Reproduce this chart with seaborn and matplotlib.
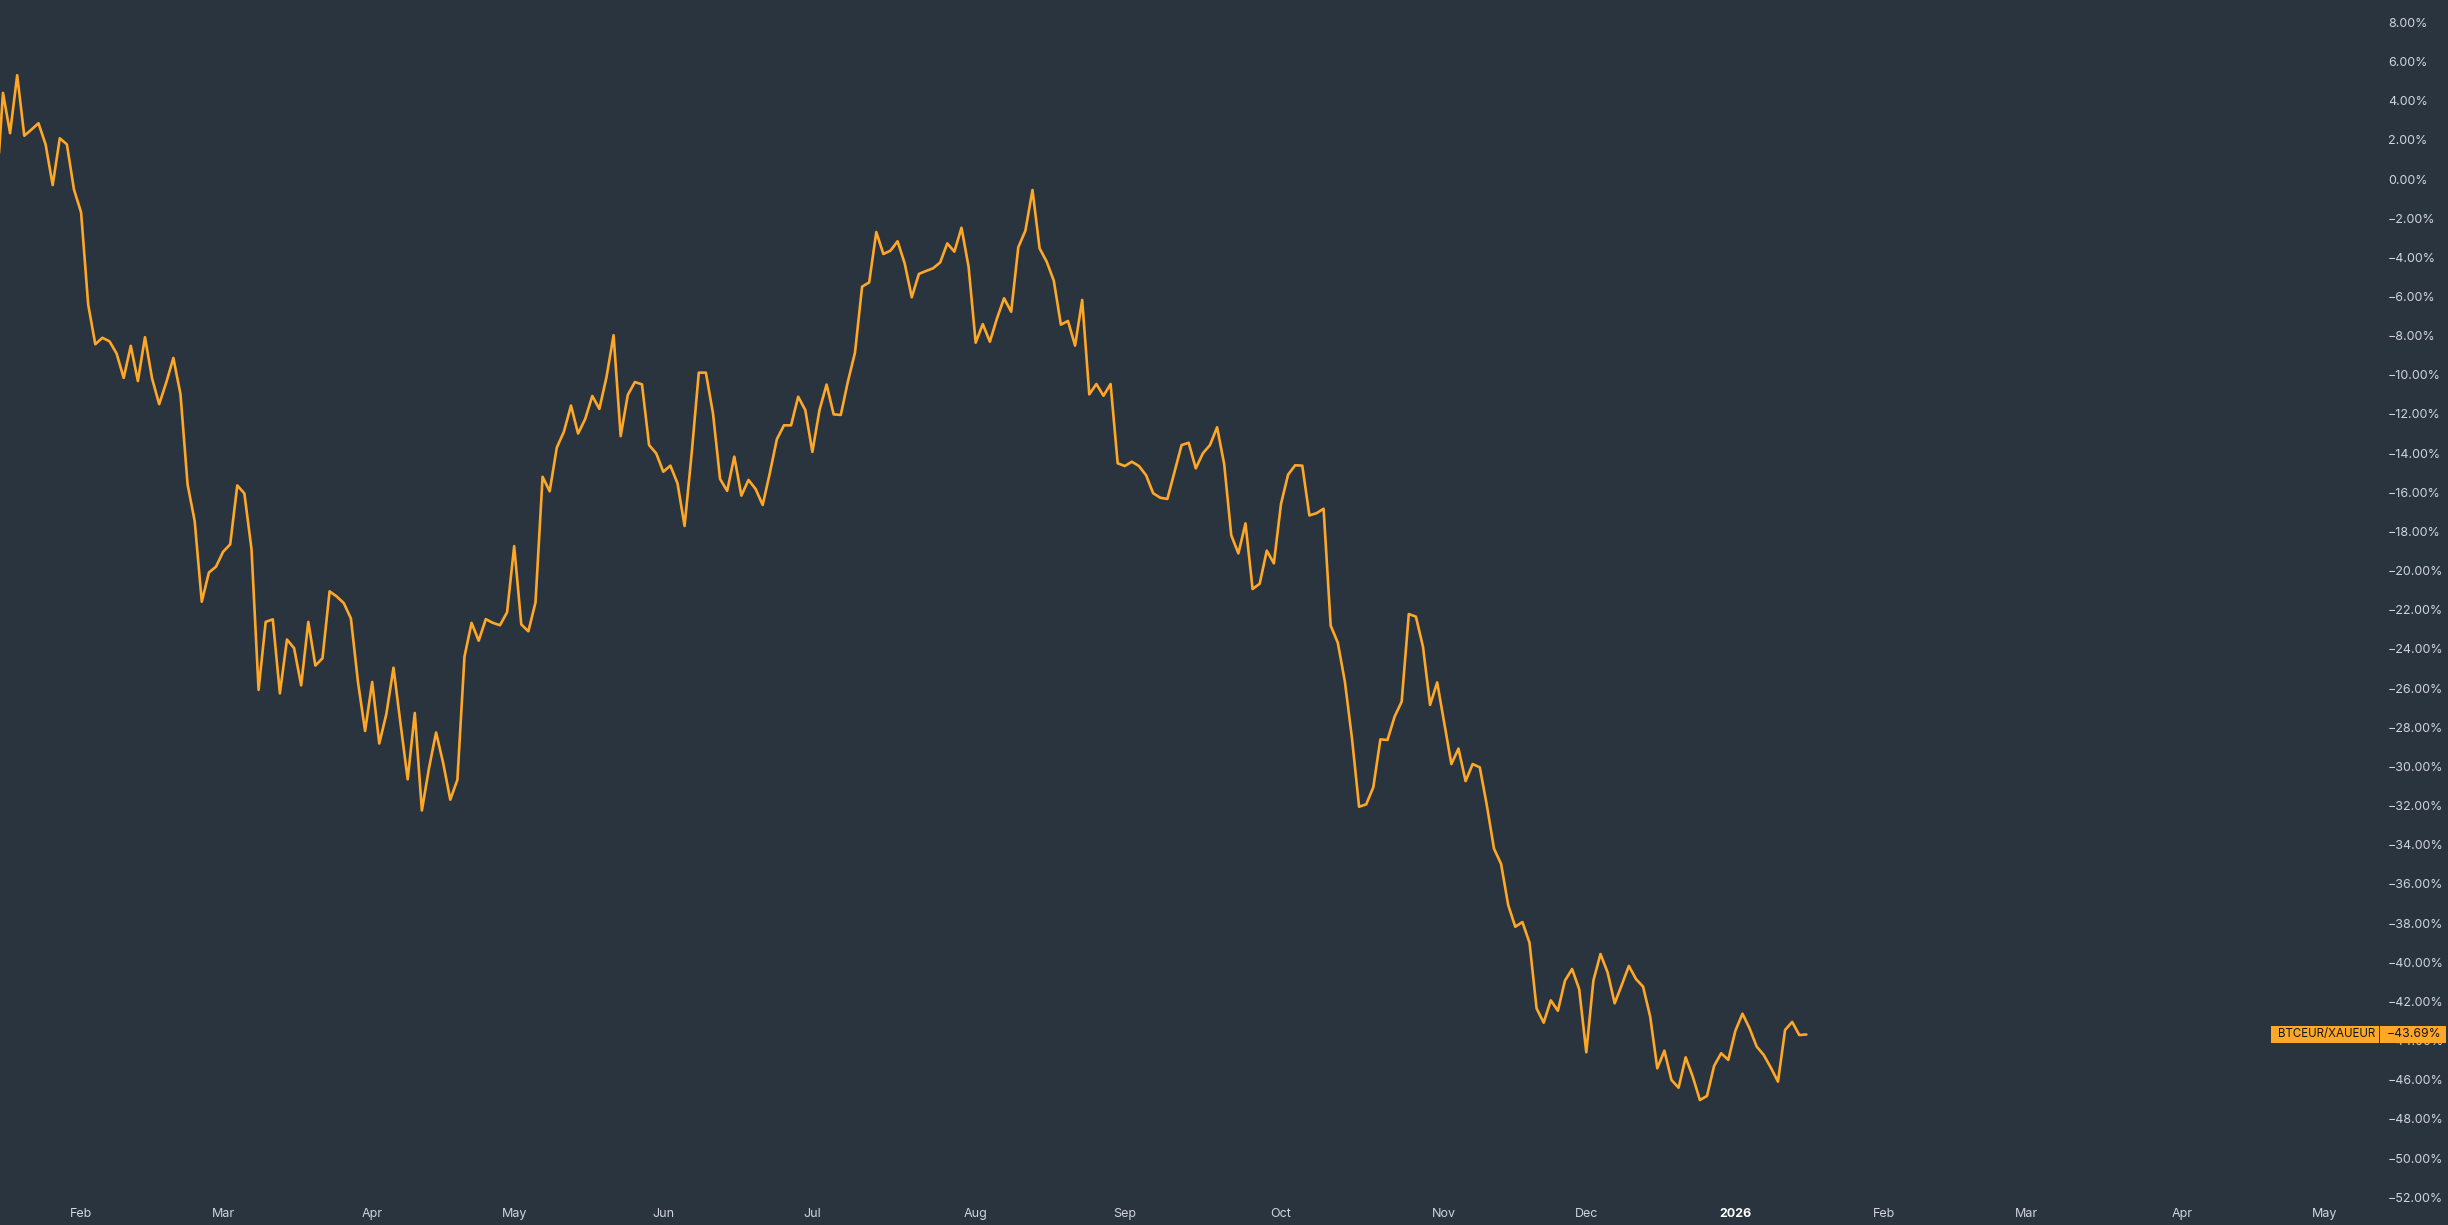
import numpy as np
import pandas as pd
import matplotlib
matplotlib.use("Agg")
import matplotlib.pyplot as plt
import seaborn as sns
from matplotlib.ticker import FuncFormatter
from matplotlib.transforms import blended_transform_factory
from matplotlib.patches import Rectangle

# ---------------- data (percent change, one value per trading bar) ----------------
series_name = "BTCEUR/XAUEUR"

values = [
    -1.10,
    4.40, 2.34, 5.30, 2.21, 2.52, 2.85, 1.77, -0.31, 2.08, 1.77,
    -0.54, -1.70, -6.41, -8.44, -8.11, -8.29, -8.91, -10.16, -8.52, -10.32,
    -8.08, -10.19, -11.50, -10.39, -9.14, -10.99, -15.60, -17.47, -21.59, -20.10,
    -19.80, -19.04, -18.66, -15.65, -16.06, -18.89, -26.09, -22.62, -22.49, -26.27,
    -23.52, -23.96, -25.86, -22.62, -24.85, -24.48, -21.06, -21.32, -21.66, -22.44,
    -25.69, -28.19, -25.69, -28.83, -27.32, -24.96, -27.84, -30.66, -27.27, -32.25,
    -30.09, -28.27, -29.83, -31.70, -30.69, -24.39, -22.67, -23.58, -22.48, -22.67,
    -22.79, -22.13, -18.75, -22.75, -23.10, -21.63, -15.21, -15.95, -13.72, -12.91,
    -11.57, -13.00, -12.26, -11.08, -11.74, -10.12, -7.98, -13.13, -11.03, -10.37,
    -10.49, -13.59, -14.01, -14.95, -14.64, -15.54, -17.72, -14.01, -9.89, -9.89,
    -11.97, -15.32, -15.93, -14.18, -16.17, -15.37, -15.83, -16.65, -15.03, -13.29,
    -12.58, -12.58, -11.12, -11.80, -13.94, -11.80, -10.50, -12.02, -12.05, -10.35,
    -8.87, -5.50, -5.28, -2.71, -3.83, -3.66, -3.18, -4.31, -6.04, -4.85,
    -4.70, -4.56, -4.26, -3.29, -3.71, -2.49, -4.48, -8.36, -7.41, -8.31,
    -7.12, -6.09, -6.78, -3.49, -2.64, -0.56, -3.54, -4.22, -5.19, -7.44,
    -7.25, -8.51, -6.18, -11.00, -10.47, -11.07, -10.47, -14.52, -14.66, -14.44,
    -14.66, -15.13, -16.05, -16.28, -16.34, -14.96, -13.59, -13.47, -14.78, -14.01,
    -13.59, -12.68, -14.56, -18.20, -19.12, -17.59, -20.94, -20.67, -18.98, -19.63,
    -16.60, -15.10, -14.62, -14.64, -17.18, -17.07, -16.84, -22.81, -23.68, -25.67,
    -28.57, -32.06, -31.94, -31.07, -28.62, -28.65, -27.46, -26.69, -22.22, -22.35,
    -23.89, -26.86, -25.71, -27.80, -29.88, -29.09, -30.75, -29.88, -30.05, -32.00,
    -34.20, -34.98, -37.08, -38.19, -37.95, -39.00, -42.36, -43.09, -41.95, -42.48,
    -40.94, -40.35, -41.38, -44.60, -40.94, -39.58, -40.52, -42.10, -41.16, -40.19,
    -40.86, -41.25, -42.78, -45.42, -44.52, -46.02, -46.41, -44.86, -45.85, -47.04,
    -46.83, -45.30, -44.65, -44.99, -43.50, -42.63, -43.38, -44.31, -44.74, -45.39,
    -46.10, -43.46, -43.05, -43.72, -43.69,
]
bar_index = list(range(-1, len(values) - 1))

month_labels = ["Feb", "Mar", "Apr", "May", "Jun", "Jul", "Aug", "Sep", "Oct",
                "Nov", "Dec", "2026", "Feb", "Mar", "Apr", "May"]
month_bars = [11, 31, 52, 72, 93, 114, 137, 158, 180, 203, 223, 244, 265, 285, 307, 327]

y_ticks = [8, 6, 4, 2, 0, -2, -4, -6, -8, -10, -12, -14, -16, -18, -20, -22, -24,
           -26, -28, -30, -32, -34, -36, -38, -40, -42, -44, -46, -48, -50, -52]

# ---------------- style ----------------
BG = "#29343f"
LINE = "#FFA726"
TXT = "#D1D4DC"
BOX_TXT = "#131722"

sns.set_theme(style="dark", rc={"axes.facecolor": BG, "figure.facecolor": BG})
plt.rcParams["font.family"] = ["Inter", "DejaVu Sans"]

W, H = 2448, 1225
fig = plt.figure(figsize=(W / 100, H / 100), dpi=100, facecolor=BG)
ax = fig.add_axes([0, 25 / H, 2379 / W, 1200 / H])
ax.set_facecolor(BG)

df = pd.DataFrame({"bar": bar_index, "pct": values})
sns.lineplot(data=df, x="bar", y="pct", ax=ax, color=LINE, linewidth=1.9)

ax.set_xlim(-0.42, 334.65)
ax.set_ylim(-52.145, 9.142)

ax.yaxis.tick_right()
ax.set_yticks(y_ticks)
ax.yaxis.set_major_formatter(
    FuncFormatter(lambda v, p: f"{v:.2f}%".replace("-", "\u2212")))
ax.set_xticks(month_bars)
ax.set_xticklabels(month_labels)
ax.tick_params(axis="both", length=0, colors=TXT, labelsize=9)
ax.tick_params(axis="y", pad=6.5)
ax.tick_params(axis="x", pad=6)
for lbl in ax.get_xticklabels():
    if lbl.get_text() == "2026":
        lbl.set_fontweight("bold")
        lbl.set_color("#FFFFFF")
for s in ax.spines.values():
    s.set_visible(False)
ax.grid(False)
ax.set_xlabel("")
ax.set_ylabel("")

# ---------------- last value label ----------------
last = values[-1]
tr = blended_transform_factory(ax.transAxes, ax.transData)
axw = 2379.0
half_h = 8.5 / 19.58
ax.add_patch(Rectangle((1 - 108 / axw, last - half_h), 107.5 / axw, 2 * half_h,
                       transform=tr, facecolor=LINE, edgecolor="none", clip_on=False))
ax.add_patch(Rectangle((1 + 1 / axw, last - half_h), 66 / axw, 2 * half_h,
                       transform=tr, facecolor=LINE, edgecolor="none", clip_on=False))
ax.text(1 - 4 / axw, last, series_name, transform=tr, ha="right", va="center",
        fontsize=8.3, color=BOX_TXT, clip_on=False)
ax.text(1 + 8 / axw, last, f"{last:.2f}%".replace("-", "\u2212"), transform=tr,
        ha="left", va="center", fontsize=8.8, color=BOX_TXT, clip_on=False)

fig.savefig("out.png", dpi=100, facecolor=BG)
